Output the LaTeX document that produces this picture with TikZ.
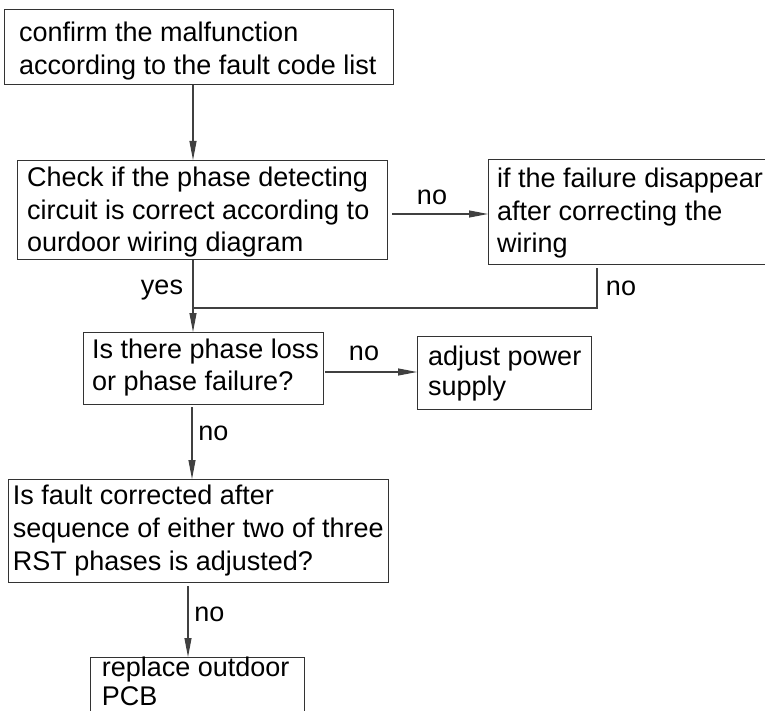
\documentclass[tikz,border=0pt]{standalone}
\usepackage{fontspec}
\setmainfont{Liberation Sans}
\usetikzlibrary{arrows.meta,calc}
\newcommand{\fsz}[1]{\fontsize{27}{#1}\selectfont}
\begin{document}
\begin{tikzpicture}[x=1pt,y=-1pt,
  box/.style={draw=black!80, line width=1.1pt, anchor=north west, inner sep=0pt},
  txt/.style={anchor=north west, inner sep=0pt, align=left, font=\fsz{32.5},
              execute at begin node={\rule{0pt}{22pt}}},
  lbl/.style={inner sep=0pt, font=\fsz{32.5}},
  conn/.style={draw=black!75, line width=1.1pt},
  arr/.style={conn, -{Triangle[length=19pt,width=7pt]}}]
\useasboundingbox (0,0) rectangle (765,711);

% boxes
\node[box, minimum width=389pt, minimum height=75pt]  (b1) at (4,9) {};
\node[box, minimum width=370pt, minimum height=99pt]  (b2) at (17,160) {};
\node[box, minimum width=290pt, minimum height=105pt] (b3) at (488,159) {};
\node[box, minimum width=240pt, minimum height=72pt]  (b4) at (83,332) {};
\node[box, minimum width=174pt, minimum height=73pt]  (b5) at (417,336) {};
\node[box, minimum width=380pt, minimum height=103pt] (b6) at (8,479) {};
\node[box, minimum width=214pt, minimum height=70pt]  (b7) at (90,657) {};

% texts
\node[txt, font=\fsz{32.3}] (t1) at (19,22) {confirm the malfunction\\according to the fault code list};
\node[txt] (t2) at (27,167) {Check if the phase detecting\\circuit is correct according to\\ourdoor wiring diagram};
\node[txt, font=\fsz{32.8}] (t3) at (497,167.5) {if the failure disappear\\after correcting the\\wiring};
\node[txt, font=\fsz{31.6}] (t4) at (92,338.7) {Is there phase loss\\or phase failure?};
\node[txt, font=\fsz{30}] (t5) at (428,346) {adjust power\\supply};
\node[txt, font=\fsz{32.8}] (t6) at (12.7,484.7) {Is fault corrected after\\sequence of either two of three\\RST phases is adjusted?};
\node[txt, font=\fsz{29}] (t7) at (101.7,657.2) {replace outdoor\\PCB};

% helper coordinates
\coordinate (mx) at (193,0);
\coordinate (m4) at (192,0);
\coordinate (lx) at (188,0);
\coordinate (rx) at (597,0);
\coordinate (ya) at (0,214);
\coordinate (yb) at (0,372);
\coordinate (j) at (193,308);

% connectors
\draw[arr] (b1.south -| mx) -- (b2.north -| mx);
\draw[arr, shorten <=4pt] (b2.east |- ya) -- (b3.west |- ya);
\draw[conn, shorten <=3pt] (b3.south -| rx) |- (j);
\draw[arr] (b2.south -| mx) -- (b4.north -| mx);
\draw[arr, shorten <=1pt] (b4.east |- yb) -- (b5.west |- yb);
\draw[arr, shorten <=2pt] (b4.south -| m4) -- (b6.north -| m4);
\draw[arr, shorten <=3pt] (b6.south -| lx) -- (b7.north -| lx);

% labels
\node[lbl] (l1) at (432,197) {no};
\node[lbl] (l2) at (621,288) {no};
\node[lbl] (l3) at (162,290) {yes};
\node[lbl] (l4) at (364,353) {no};
\node[lbl] (l5) at (213.5,433) {no};
\node[lbl] (l6) at (209.5,614) {no};
\end{tikzpicture}
\end{document}
